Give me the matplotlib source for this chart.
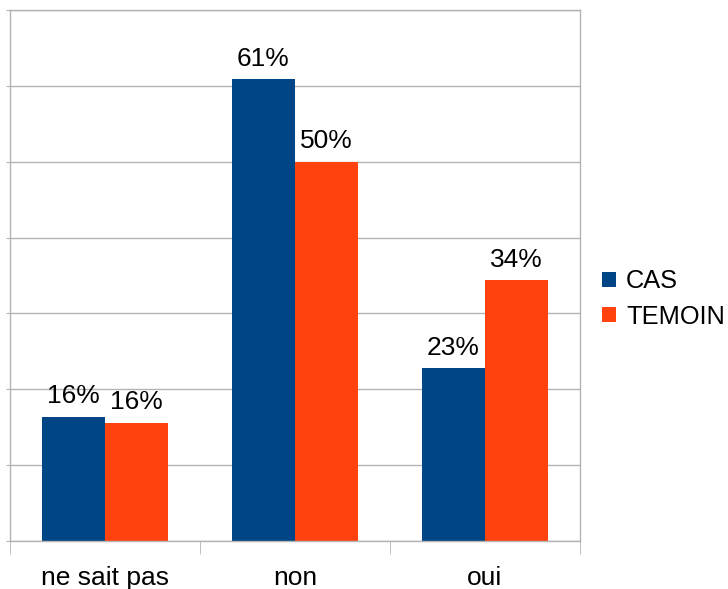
import matplotlib
matplotlib.use("Agg")
import matplotlib.pyplot as plt
import numpy as np

categories = ["ne sait pas", "non", "oui"]
cas = [16.4, 60.9, 22.8]
temoin = [15.6, 50.0, 34.4]
cas_labels = ["16%", "61%", "23%"]
temoin_labels = ["16%", "50%", "34%"]

plt.rcParams['font.family'] = ['Liberation Sans', 'DejaVu Sans']
FS = 19

fig = plt.figure(figsize=(7.28, 5.89), dpi=100)
ax = fig.add_axes([10/728, 48/589, 570/728, 531/589])

x = np.arange(len(categories))
w = 1/3
grid_c = "#b3b3b3"
b1 = ax.bar(x - w/2, cas, w, color="#004586", label="CAS", zorder=2)
b2 = ax.bar(x + w/2, temoin, w, color="#ff420e", label="TEMOIN", zorder=2)

for bars, labs in ((b1, cas_labels), (b2, temoin_labels)):
    for r, t in zip(bars, labs):
        ax.annotate(t, (r.get_x() + r.get_width()/2, r.get_height()),
                    xytext=(0, 6), textcoords="offset points",
                    ha="center", va="bottom", fontsize=FS)

ax.set_xlim(-0.5, 2.5)
ax.set_ylim(0, 70)
ax.set_yticks(np.arange(0, 71, 10))
ax.set_yticklabels([])
ax.yaxis.grid(True, color=grid_c, linewidth=1, zorder=0)
ax.tick_params(axis='y', length=3, color=grid_c, direction='out')
ax.set_xticks(x)
ax.set_xticklabels(categories, fontsize=FS)
ax.tick_params(axis='x', length=0, pad=18)
ax.set_xticks([-0.5, 0.5, 1.5, 2.5], minor=True)
ax.tick_params(axis='x', which='minor', length=9, color=grid_c, direction='out')
for s in ax.spines.values():
    s.set_color(grid_c)
    s.set_linewidth(1)

leg = fig.legend(handles=[b1, b2], loc="center left", bbox_to_anchor=(602/728, 1 - 299/589),
                 frameon=False, fontsize=18.3, handlelength=0.55, handleheight=0.55,
                 handletextpad=0.4, labelspacing=0.45, borderaxespad=0, borderpad=0)

fig.savefig("out.png", dpi=100)
